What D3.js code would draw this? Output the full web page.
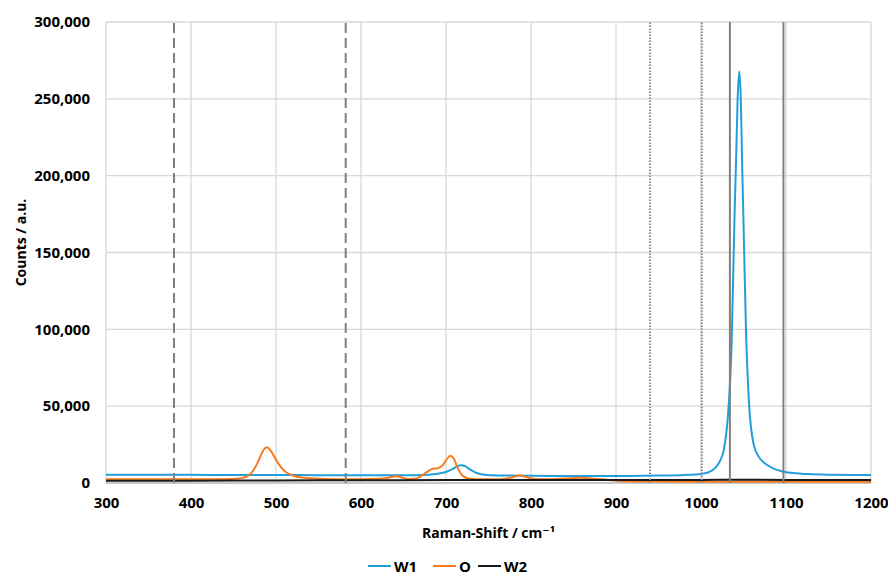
<!DOCTYPE html>
<html>
<head>
<meta charset="utf-8">
<script src="https://cdn.jsdelivr.net/npm/d3@7/dist/d3.min.js"></script>
<style>
  html, body { margin: 0; padding: 0; background: #fff; }
  svg { display: block; }
  text { font-family: "Open Sans", "DejaVu Sans", sans-serif; font-weight: 700; fill: #000; }
</style>
</head>
<body>
<svg id="chart" width="888" height="577"></svg>
<script>
// ---- Data ----
const xTicks = [300, 400, 500, 600, 700, 800, 900, 1000, 1100, 1200];
const yTicks = [0, 50000, 100000, 150000, 200000, 250000, 300000];

const seriesNames = ["W1", "O", "W2"];
const seriesColors = ["#239edb", "#f67c1f", "#1a1a1a"];

// W1 spectrum: [Raman shift, counts]
const w1 = [
  [300,5400],[350,5350],[400,5300],[450,5250],[500,5200],[550,5100],[600,5000],[650,5000],
  [675,5200],[690,6000],[700,7200],[708,9200],[713,10800],[718,11600],[723,10800],[729,8500],
  [736,6500],[745,5400],[760,4900],[800,4700],[850,4600],[900,4600],[950,4800],[980,5200],
  [1000,5900],[1010,7200],[1017,10000],[1022,14000],[1027,22000],[1032,46000],[1036,90000],
  [1039.5,175000],[1041.5,215000],[1043,248000],[1045,268000],[1046.8,250000],[1048.5,205000],
  [1049.5,182000],[1053,98000],[1056.5,52000],[1062,25000],[1068,17000],[1075,12800],
  [1085,9500],[1095,7600],[1105,6600],[1125,5800],[1150,5400],[1200,5200]
];

// O spectrum
const o = [
  [300,2400],[350,2400],[400,2400],[440,2500],[455,2900],[462,3500],[468,5000],[473,8000],
  [478,12800],[483,19000],[486,22000],[489,23300],[492,22300],[496,19000],[500,15200],
  [506,10200],[512,7000],[518,5200],[528,3700],[545,3000],[570,2500],[600,2500],[620,2700],
  [632,3400],[641,4400],[648,3600],[655,2600],[663,2800],[670,4200],[677,7000],[684,9200],
  [690,9600],[696,11500],[701,15500],[705,17800],[709,16000],[714,9500],[720,4500],
  [728,2800],[740,2400],[765,2500],[776,3400],[786,4800],[795,3800],[805,2600],[820,2500],
  [840,3000],[857,3400],[875,2800],[890,2000],[910,1200],[950,900],[1000,850],[1100,800],[1200,800]
];

// W2 spectrum
const w2 = [
  [300,1400],[400,1500],[500,1700],[600,1800],[700,1900],[800,1950],[900,2000],
  [1000,2000],[1040,2100],[1050,2100],[1100,2000],[1200,1900]
];

// Vertical reference lines
const dashedLines = [380, 582];
const dottedLines = [940, 1001];
const solidLines = [1034, 1097];

// ---- Chart ----
const svg = d3.select("#chart");
const margin = { left: 106, right: 17, top: 22, bottom: 94 };
const W = 888, H = 577;
const x = d3.scaleLinear().domain([300, 1200]).range([margin.left, W - margin.right]);
const y = d3.scaleLinear().domain([0, 300000]).range([H - margin.bottom, margin.top]);

const fmt = d3.format(",");

// Gridlines
const grid = svg.append("g");
grid.selectAll("line.h").data(yTicks).join("line")
  .attr("x1", x(300)).attr("x2", x(1200))
  .attr("y1", d => y(d)).attr("y2", d => y(d))
  .attr("stroke", "#d9d9d9").attr("stroke-width", 1.3);
grid.selectAll("line.v").data(xTicks).join("line")
  .attr("y1", y(0)).attr("y2", y(300000))
  .attr("x1", d => x(d)).attr("x2", d => x(d))
  .attr("stroke", "#d9d9d9").attr("stroke-width", 1.3);
// bottom axis line
svg.append("line").attr("x1", x(300)).attr("x2", x(1200)).attr("y1", y(0)).attr("y2", y(0))
  .attr("stroke", "#bfbfbf").attr("stroke-width", 1.3);

// Axes (labels via d3 axes)
const yAxis = svg.append("g").attr("transform", `translate(${x(300) - 16},0)`)
  .call(d3.axisLeft(y).tickValues(yTicks).tickFormat(fmt).tickSize(0).tickPadding(0));
yAxis.select(".domain").remove();
yAxis.selectAll("text").attr("font-size", 15).attr("font-family", "'Open Sans', sans-serif")
  .attr("font-weight", 700).attr("fill", "#000");

const xAxis = svg.append("g").attr("transform", `translate(0,${y(0) + 14})`)
  .call(d3.axisBottom(x).tickValues(xTicks).tickFormat(d3.format("d")).tickSize(0).tickPadding(0));
xAxis.select(".domain").remove();
xAxis.selectAll("text").attr("font-size", 15).attr("font-family", "'Open Sans', sans-serif")
  .attr("font-weight", 700).attr("fill", "#000");

// Series
const line = d3.line().x(d => x(d[0])).y(d => y(d[1])).curve(d3.curveMonotoneX);
const allSeries = [w1, o, w2];
svg.append("g").selectAll("path").data(allSeries).join("path")
  .attr("d", line)
  .attr("fill", "none")
  .attr("stroke", (d, i) => seriesColors[i])
  .attr("stroke-width", 2)
  .attr("stroke-linejoin", "round");

// Reference lines
const refs = svg.append("g");
refs.selectAll("line.dash").data(dashedLines).join("line")
  .attr("x1", d => x(d)).attr("x2", d => x(d)).attr("y1", y(0)).attr("y2", y(300000))
  .attr("stroke", "#7f7f7f").attr("stroke-width", 2).attr("stroke-dasharray", "10,5");
refs.selectAll("line.dot").data(dottedLines).join("line")
  .attr("x1", d => x(d)).attr("x2", d => x(d)).attr("y1", y(0)).attr("y2", y(300000))
  .attr("stroke", "#8c8c8c").attr("stroke-width", 2).attr("stroke-dasharray", "1.5,1.5");
refs.selectAll("line.solid").data(solidLines).join("line")
  .attr("x1", d => x(d)).attr("x2", d => x(d)).attr("y1", y(0)).attr("y2", y(300000))
  .attr("stroke", "#808080").attr("stroke-width", 2);

// Axis titles
svg.append("text")
  .attr("x", (x(300) + x(1200)) / 2).attr("y", 538)
  .attr("text-anchor", "middle").attr("font-size", 14)
  .text("Raman-Shift / cm⁻¹");
svg.append("text")
  .attr("transform", `translate(26,${(y(0) + y(300000)) / 2 - 10}) rotate(-90)`)
  .attr("text-anchor", "middle").attr("font-size", 14)
  .text("Counts / a.u.");

// Legend
const legendX = [368, 433, 478];
const legend = svg.append("g").attr("transform", "translate(0,566)");
const items = legend.selectAll("g").data(seriesNames).join("g")
  .attr("transform", (d, i) => `translate(${legendX[i]},0)`);
items.append("line").attr("x1", 0).attr("x2", 23).attr("y1", 0).attr("y2", 0)
  .attr("stroke", (d, i) => seriesColors[i]).attr("stroke-width", 2);
items.append("text").attr("x", 26).attr("y", 5.5).attr("font-size", 15).text(d => d);
</script>
</body>
</html>
